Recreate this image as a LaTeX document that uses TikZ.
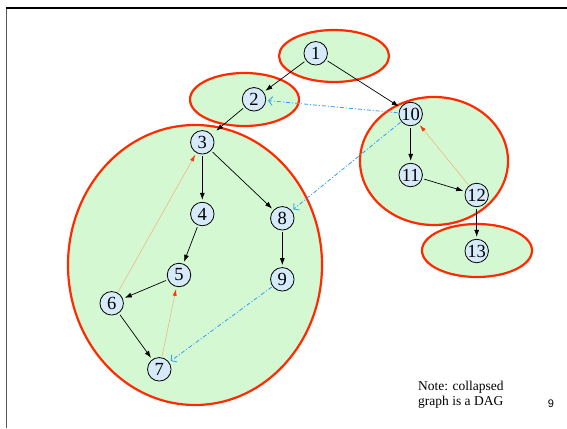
\documentclass[tikz,border=0pt]{standalone}
\usepackage{fontspec}
\setmainfont{Liberation Serif}
\newfontfamily\pagenofont{Liberation Sans}
\usetikzlibrary{arrows.meta,shapes.geometric}
\definecolor{blobfill}{HTML}{D4F9D2}
\definecolor{blobline}{HTML}{FF2A00}
\definecolor{vfill}{HTML}{D6EAFA}
\definecolor{crossblue}{HTML}{3399FF}
\definecolor{backtan}{HTML}{EFB48A}
\definecolor{backtip}{HTML}{FF3300}
\begin{document}
\begin{tikzpicture}[x=1pt,y=-1pt,
  vert/.style={circle,draw=black,line width=0.8pt,fill=vfill,inner sep=0pt,
    minimum size=23.5pt,font=\fontsize{18.5}{18.5}\selectfont},
  blob/.style={ellipse,draw=blobline,fill=blobfill,line width=2.2pt,inner sep=0pt},
  treeedge/.style={-{Latex[length=7pt,width=5pt]},black,line width=0.7pt,
    shorten >=2pt,shorten <=2pt},
  crossedge/.style={-{Straight Barb[length=4pt,width=9pt]},crossblue,line width=0.8pt,
    dash pattern=on 4pt off 2pt on 1pt off 2pt,shorten >=2pt,shorten <=1pt},
  backedge/.style={-{Latex[length=7pt,width=4pt,color=backtip]},backtan,line width=0.6pt,
    shorten >=2pt,shorten <=1pt},
]
\useasboundingbox (0,0) rectangle (567,428);
\fill[white] (0,0) rectangle (567,428);

% slide frame
\draw[black!65,line width=1.6pt] (6.5,428) -- (6.5,8);
\draw[black,line width=1.2pt] (6,8) -- (567,8);

% strongly connected components
\node[blob,minimum width=110pt,minimum height=52pt] (sccA) at (334,56) {};
\node[blob,minimum width=109pt,minimum height=53pt] (sccB) at (244.5,99.5) {};
\node[blob,minimum width=254pt,minimum height=280pt] (sccC) at (195,265) {};
\node[blob,minimum width=148pt,minimum height=128pt] (sccD) at (434,161) {};
\node[blob,minimum width=110pt,minimum height=53pt] (sccE) at (477,250.5) {};

% vertices
\node[vert] (v1) at (315.7,53.3) {1};
\node[vert] (v2) at (254,99.3) {2};
\node[vert] (v3) at (202.3,142.3) {3};
\node[vert] (v4) at (202.3,214) {4};
\node[vert] (v5) at (179,275) {5};
\node[vert] (v6) at (111.7,303.3) {6};
\node[vert] (v7) at (159.3,369.3) {7};
\node[vert] (v8) at (282.3,218.3) {8};
\node[vert] (v9) at (282.3,279.3) {9};
\node[vert] (v10) at (410.7,114) {10};
\node[vert] (v11) at (410.7,175) {11};
\node[vert] (v12) at (476.7,195) {12};
\node[vert] (v13) at (476.7,251) {13};

% tree edges
\draw[treeedge] (v1) -- (v2);
\draw[treeedge] (v1) -- (v10);
\draw[treeedge,shorten >=6pt] (v2) -- (v3);
\draw[treeedge] (v3) -- (v4);
\draw[treeedge] (v3) -- (v8);
\draw[treeedge] (v4) -- (v5);
\draw[treeedge] (v5) -- (v6);
\draw[treeedge] (v6) -- (v7);
\draw[treeedge] (v8) -- (v9);
\draw[treeedge] (v10) -- (v11);
\draw[treeedge] (v11) -- (v12);
\draw[treeedge] (v12) -- (v13);

% cross edges
\draw[crossedge] (v10) -- (v2);
\draw[crossedge] (v10) -- (v8);
\draw[crossedge] (v9) -- (v7);

% back edges
\draw[backedge] (v6) -- (v3);
\draw[backedge] (v7) -- (v5);
\draw[backedge] (v12) -- (v10);

% caption and page number
\node[anchor=north west,align=left,inner sep=0pt,
  font=\fontsize{13.5}{15}\selectfont] (note) at (418,381) {Note: collapsed\\graph is a DAG};
\node[anchor=base,inner sep=0pt,font=\pagenofont\fontsize{11}{11}\selectfont] (pageno) at (551,407) {9};
\end{tikzpicture}
\end{document}
